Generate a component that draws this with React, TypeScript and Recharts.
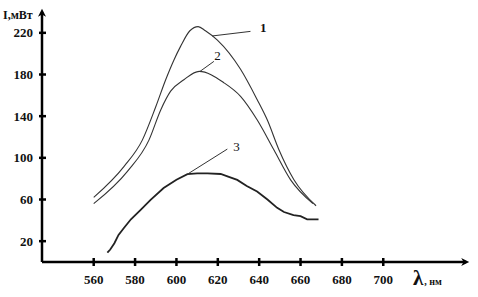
import { LineChart, Line, XAxis, YAxis, ReferenceLine, ReferenceDot, Label } from "recharts";

// curve 1 (upper)
const wl1 = [560, 574.6, 583.5, 590, 594.8, 598.8, 602, 606.5, 610.5, 614, 619.8, 631, 639, 644, 649.5, 656.8, 667.5];
const int1 = [62, 91.6, 117, 149, 175, 194, 207, 222, 226, 222, 213, 185, 156, 136, 108, 79, 54];

// curve 2 (middle)
const wl2 = [560, 576.3, 586.7, 592.4, 597.2, 603.6, 611, 623, 631, 639, 647.1, 655.2, 666];
const int2 = [56, 87, 117, 146, 164, 175, 183, 172, 159, 136.5, 107.7, 78.8, 56];

// curve 3 (lower, noisy)
const wl3 = [566.6, 568, 570, 572, 574.6, 578, 582.7, 587.5, 593.8, 600, 605.3, 610, 615, 621.4, 625, 629.4, 634, 639, 644, 648.7, 652, 656.6, 660, 663.2, 668.7];
const int3 = [9, 12, 18, 26, 32.7, 41, 50, 59.6, 71, 79, 84.3, 85, 85, 84.5, 82, 78.8, 73, 67.6, 60, 52, 48, 45, 44, 41, 41];

const xTicks = [560, 580, 600, 620, 640, 660, 680, 700];
const yTicks = [20, 60, 100, 140, 180, 220];

const toRows = (xs: number[], ys: number[]) => xs.map((x, i) => ({ wl: x, v: ys[i] }));
const data1 = toRows(wl1, int1);
const data2 = toRows(wl2, int2);
const data3 = toRows(wl3, int3);

const FONT = "'Liberation Serif', 'Times New Roman', serif";

const XTick = (props: any) => {
  const { x, y, payload } = props;
  return (
    <g>
      <line x1={x} x2={x} y1={y - 4} y2={y + 4} stroke="#000" strokeWidth={2.5} />
      <text x={x} y={y + 22} textAnchor="middle" fontFamily={FONT} fontWeight="bold" fontSize={13} fill="#111">
        {payload.value}
      </text>
    </g>
  );
};

const YTick = (props: any) => {
  const { x, y, payload } = props;
  return (
    <g>
      <line x1={x - 3} x2={x + 4} y1={y} y2={y} stroke="#000" strokeWidth={2.5} />
      <text x={x - 9} y={y + 4.5} textAnchor="end" fontFamily={FONT} fontWeight="bold" fontSize={13} fill="#111">
        {payload.value}
      </text>
    </g>
  );
};

const curveNum = (txt: string, bold: boolean) => (p: any) => (
  <text x={p.cx} y={p.cy + 5} textAnchor="middle" fontFamily={FONT} fontWeight={bold ? "bold" : "normal"} fontSize={13} fill="#111">
    {txt}
  </text>
);

export default function App() {
  return (
    <div style={{ position: "absolute", left: 0, top: 0, width: 478, height: 297, background: "#fff" }}>
      <svg width={0} height={0} style={{ position: "absolute" }}>
        <defs>
          <marker id="arr" viewBox="0 0 10 10" refX="6" refY="5" markerWidth="9" markerHeight="8" markerUnits="userSpaceOnUse" orient="auto-start-reverse">
            <path d="M0,0 L10,5 L0,10 L3,5 z" fill="#000" />
          </marker>
        </defs>
      </svg>
      <LineChart width={478} height={297} margin={{ top: 12, right: 12, left: 41, bottom: 34 }}>
        <XAxis
          dataKey="wl"
          type="number"
          domain={[535, 740]}
          ticks={xTicks}
          interval={0}
          height={1}
          tickSize={0}
          tickMargin={0}
          tick={<XTick />}
          tickLine={false}
          axisLine={{ stroke: "#000", strokeWidth: 2.5, markerEnd: "url(#arr)" }}
          allowDataOverflow
        >
          <Label
            content={(p: any) => {
              const vb = p.viewBox;
              const x0 = vb.x + vb.width - 53;
              return (
                <text fontFamily={FONT} fontWeight="bold" fill="#111">
                  <tspan x={x0} y={vb.y + 23} fontSize={21}>λ</tspan>
                  <tspan fontSize={10} dx={1}>, нм</tspan>
                </text>
              );
            }}
          />
        </XAxis>
        <YAxis
          type="number"
          domain={[0, 240]}
          ticks={yTicks}
          interval={0}
          width={1}
          tickSize={0}
          tickMargin={0}
          tick={<YTick />}
          tickLine={false}
          axisLine={{ stroke: "#000", strokeWidth: 2.5, markerStart: "url(#arr)" }}
          allowDataOverflow
        >
          <Label
            content={(p: any) => {
              const vb = p.viewBox;
              return (
                <text x={3} y={vb.y + 7} fontFamily={FONT} fontWeight="bold" fontSize={12} fill="#111">
                  I,мВт
                </text>
              );
            }}
          />
        </YAxis>
        <Line data={data1} dataKey="v" type="monotone" stroke="#333" strokeWidth={1.1} dot={false} isAnimationActive={false} />
        <Line data={data2} dataKey="v" type="monotone" stroke="#333" strokeWidth={1.1} dot={false} isAnimationActive={false} />
        <Line data={data3} dataKey="v" type="linear" stroke="#222" strokeWidth={1.8} dot={false} isAnimationActive={false} />
        <ReferenceLine segment={[{ x: 617.3, y: 217 }, { x: 635.8, y: 221.4 }]} stroke="#333" strokeWidth={1} ifOverflow="visible" />
        <ReferenceLine segment={[{ x: 611.4, y: 183 }, { x: 618.1, y: 192.6 }]} stroke="#333" strokeWidth={1} ifOverflow="visible" />
        <ReferenceLine segment={[{ x: 605.3, y: 84.3 }, { x: 624.6, y: 108.4 }]} stroke="#333" strokeWidth={1} ifOverflow="visible" />
        <ReferenceDot x={642} y={226} r={0} ifOverflow="visible" shape={curveNum("1", true)} />
        <ReferenceDot x={619.8} y={199} r={0} ifOverflow="visible" shape={curveNum("2", false)} />
        <ReferenceDot x={629} y={111.5} r={0} ifOverflow="visible" shape={curveNum("3", false)} />
      </LineChart>
    </div>
  );
}
